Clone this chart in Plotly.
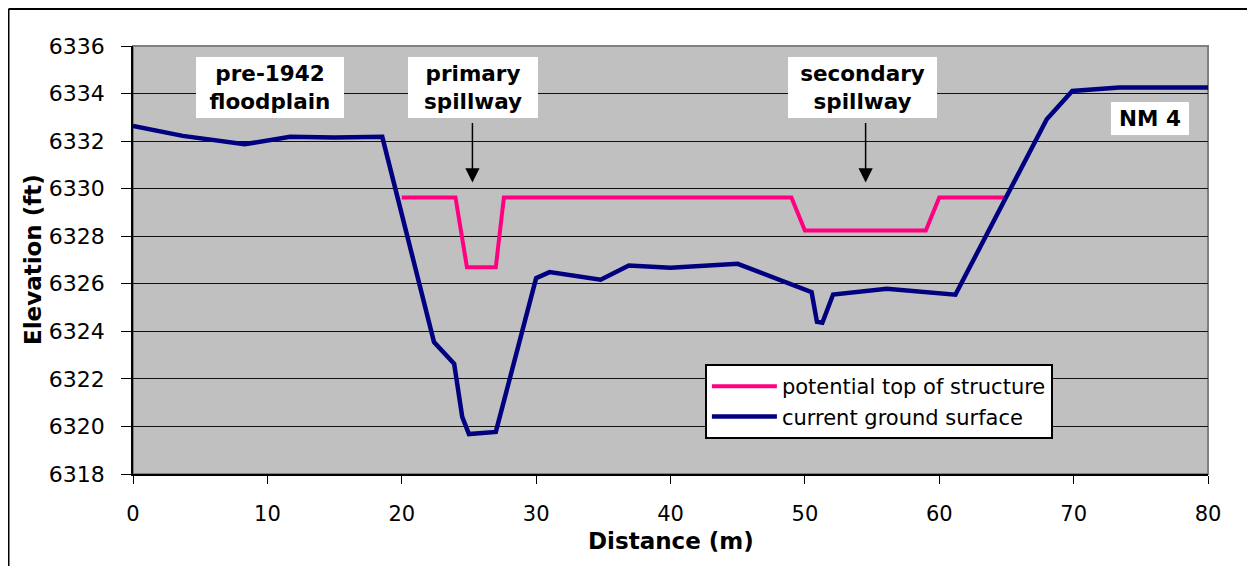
import plotly.graph_objects as go

# ---- data ----
ground_x = [0, 3.7, 8.3, 11.7, 15.0, 18.55, 22.4, 23.9, 24.5, 25.0, 27.0, 30.0, 31.0, 34.8,
            36.9, 40.0, 45.0, 50.5, 50.9, 51.3, 52.1, 56.1, 61.2, 68.0, 69.9, 73.4, 80]
ground_y = [6332.64, 6332.22, 6331.87, 6332.18, 6332.15, 6332.18, 6323.55, 6322.64, 6320.4,
            6319.68, 6319.77, 6326.24, 6326.49, 6326.17, 6326.77, 6326.67, 6326.84, 6325.65,
            6324.40, 6324.36, 6325.55, 6325.79, 6325.54, 6332.92, 6334.11, 6334.25, 6334.25]

struct_x = [20, 24, 24.85, 27, 27.6, 49, 50, 59, 60, 65]
struct_y = [6329.63, 6329.63, 6326.7, 6326.7, 6329.63, 6329.63, 6328.24, 6328.24, 6329.63, 6329.63]

series_names = ["potential top of structure", "current ground surface"]
x_ticks = [0, 10, 20, 30, 40, 50, 60, 70, 80]
y_ticks = [6318, 6320, 6322, 6324, 6326, 6328, 6330, 6332, 6334, 6336]

labels = ["pre-1942<br>floodplain", "primary<br>spillway", "secondary<br>spillway", "NM 4"]
label_x = [10.23, 25.3, 54.3, 75.65]
label_y = [6334.26, 6334.26, 6334.26, 6332.96]
label_w = [148, 130, 149, 78]
label_h = [61, 61, 61, 33]

arrow_x = [25.26, 54.52]
arrow_y = [6330.26, 6330.26]

x_title = "Distance (m)"
y_title = "Elevation (ft)"

FONT = "DejaVu Sans"

fig = go.Figure()
fig.add_trace(go.Scatter(x=struct_x, y=struct_y, mode="lines", name=series_names[0],
                         line=dict(color="#FF0080", width=4)))
fig.add_trace(go.Scatter(x=ground_x, y=ground_y, mode="lines", name=series_names[1],
                         line=dict(color="#000080", width=4.5)))

annotations = []
for t, x, y, w, h in zip(labels, label_x, label_y, label_w, label_h):
    annotations.append(dict(x=x, y=y, xref="x", yref="y", text="<b>" + t + "</b>",
                            showarrow=False, bgcolor="white", borderpad=0, borderwidth=0,
                            width=w, height=h, align="center", valign="middle",
                            font=dict(family=FONT, size=21.5, color="black")))
for x, y in zip(arrow_x, arrow_y):
    annotations.append(dict(x=x, y=y, xref="x", yref="y", text="", showarrow=True,
                            ax=0, ay=-61, arrowhead=2, arrowsize=1.9, arrowwidth=1.5,
                            arrowcolor="black"))
# axis titles
annotations.append(dict(x=0.5, y=-0.1238, xref="paper", yref="paper", text="<b>" + x_title + "</b>",
                        showarrow=False, xanchor="center", yanchor="top", borderpad=0,
                        font=dict(family=FONT, size=23, color="black")))
annotations.append(dict(x=-0.093, y=0.5, xref="paper", yref="paper", text="<b>" + y_title + "</b>",
                        showarrow=False, xanchor="center", yanchor="middle", textangle=-90,
                        font=dict(family=FONT, size=23, color="black")))

# page body adds an 8px offset; margins compensate so the plot area sits at
# x 133..1208, y 46..474 on the page
shapes = [
    dict(type="rect", xref="paper", yref="paper", x0=0, x1=1, y0=0, y1=1,
         line=dict(color="#808080", width=2), layer="below"),
    dict(type="line", xref="paper", yref="paper", x0=-0.1158, x1=-0.1158, y0=-0.3, y1=1.0865,
         line=dict(color="black", width=2)),
    dict(type="line", xref="paper", yref="paper", x0=-0.1158, x1=1.1, y0=1.0865, y1=1.0865,
         line=dict(color="black", width=2)),
]

fig.update_layout(
    width=1255, height=566,
    margin=dict(l=125, r=55, t=38, b=100, autoexpand=False),
    paper_bgcolor="white", plot_bgcolor="#C0C0C0",
    font=dict(family=FONT, size=21, color="black"),
    annotations=annotations, shapes=shapes,
    legend=dict(x=0.532, y=0.257, xanchor="left", yanchor="top",
                bgcolor="white", bordercolor="black", borderwidth=2,
                font=dict(family=FONT, size=21, color="black"), itemwidth=65,
                tracegroupgap=0),
    showlegend=True,
)
fig.update_xaxes(range=[0, 80], tickvals=x_ticks, ticks="outside", ticklen=8, tickcolor="black",
                 showline=True, linecolor="black", linewidth=1.5, showgrid=False, zeroline=False,
                 tickfont=dict(size=21), ticklabelstandoff=12)
fig.update_yaxes(range=[6318, 6336], tickvals=y_ticks, ticks="outside", ticklen=10,
                 tickcolor="black", showline=True, linecolor="black", linewidth=1.5,
                 showgrid=True, gridcolor="#111111", gridwidth=1, zeroline=False,
                 tickfont=dict(size=22), ticklabelstandoff=12)

fig.write_html("out.html")
